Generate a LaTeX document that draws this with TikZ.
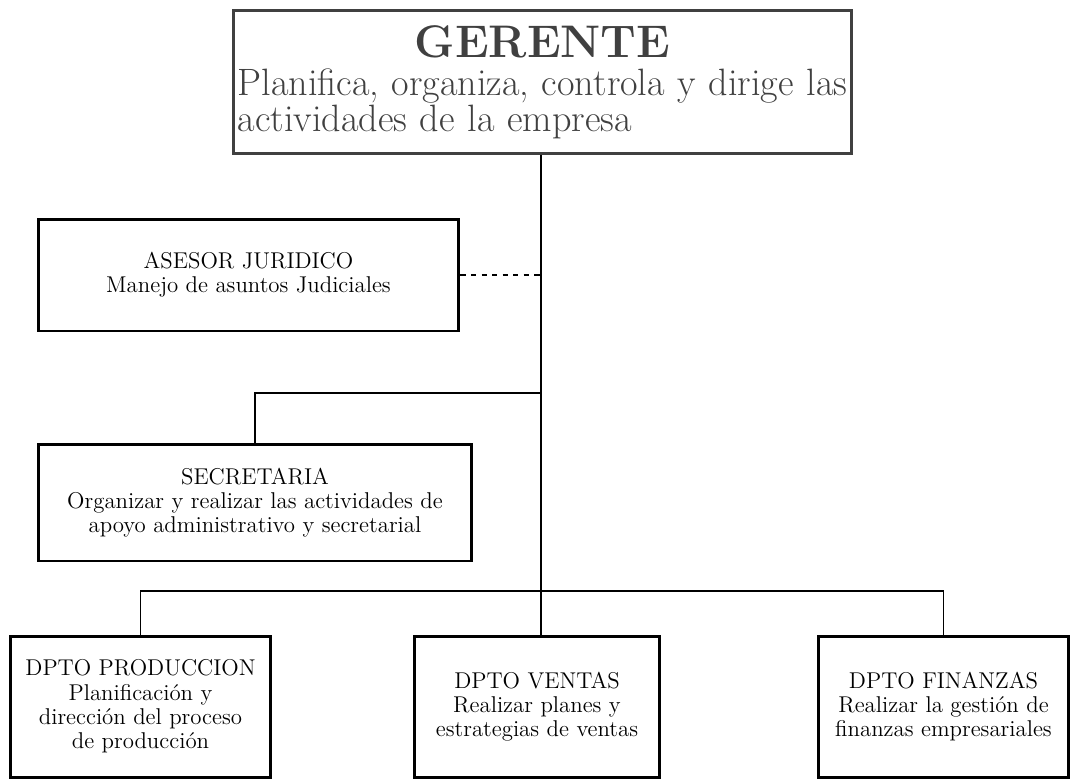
\documentclass[tikz,border=0pt]{standalone}
\usepackage{tikz}
\usepackage{amsmath}

\definecolor{boss}{HTML}{404040}

\begin{document}
\begin{tikzpicture}[x=0.02cm, y=-0.02cm, line width=1.1pt,
    box/.style={rectangle, draw, line width=1.7pt, align=center, inner sep=2pt,
        font=\fontsize{13}{13.8}\selectfont},
    dept/.style={box, minimum height=2.82cm}]

    \useasboundingbox (0,0) rectangle (1071,779);

    % draw nodes
    \node [box, draw=boss, text=boss, minimum width=12.38cm, minimum height=2.86cm,
        align=left, text width=12.2cm, font=\fontsize{21.7}{18.8}\selectfont]
        (vgerente) at (542.5,82)
        {\makebox[12.2cm]{\fontsize{26}{30}\selectfont\bfseries GERENTE}\\[3pt]
         Planifica, organiza, controla y dirige las\\actividades de la empresa};
    \node [box, minimum width=8.42cm, minimum height=2.24cm]
        (vasesor) at (248.5,275) {ASESOR JURIDICO\\Manejo de asuntos Judiciales};
    \node [box, minimum width=8.68cm, minimum height=2.34cm]
        (vsecretaria) at (255,502.5)
        {SECRETARIA\\Organizar y realizar las actividades de\\apoyo administrativo y secretarial};

    \foreach \t/\x/\w/\txt in {produccion/140.5/5.22cm/{DPTO PRODUCCION\\Planificación y\\dirección del proceso\\de producción},
                               ventas/537/4.92cm/{DPTO VENTAS\\Realizar planes y\\estrategias de ventas},
                               finanzas/943.5/5.02cm/{DPTO FINANZAS\\Realizar la gestión de\\finanzas empresariales}}
        \node [dept, minimum width=\w]
            (v\t) at (\x,706.5) {\txt};

    % draw edges
    \coordinate (sec) at (541,393);
    \coordinate (bus) at (541,591);
    \draw (vgerente.south -| sec) -- (vventas.north -| sec);
    \draw [dashed] (vasesor.east) -- (vasesor.east -| sec);
    \draw (sec) -| (vsecretaria.north);
    \foreach \j in {produccion, finanzas}
        \draw (bus) -| (v\j.north);

\end{tikzpicture}
\end{document}
